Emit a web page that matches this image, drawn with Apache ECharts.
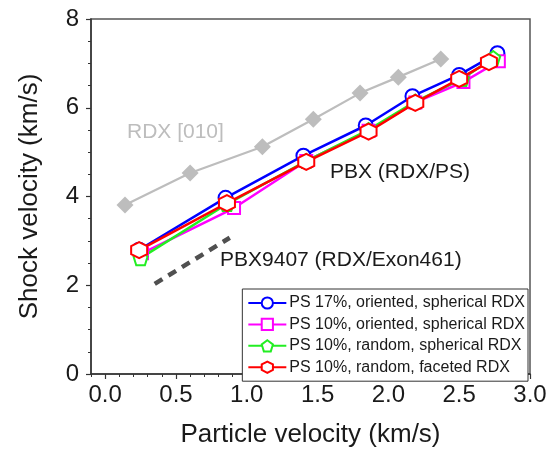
<!DOCTYPE html>
<html>
<head>
<meta charset="utf-8">
<script src="https://cdn.jsdelivr.net/npm/echarts@6/dist/echarts.min.js"></script>
<style>
html,body{margin:0;padding:0;background:#fff;}
#c{width:551px;height:457px;}
</style>
</head>
<body>
<div id="c"></div>
<script>
// ---- data ----
var xTicks = [0.0, 0.5, 1.0, 1.5, 2.0, 2.5, 3.0];
var xMinorTicks = [-0.1,0,0.1,0.2,0.3,0.4,0.5,0.6,0.7,0.8,0.9,1.0,1.1,1.2,1.3,1.4,1.5,1.6,1.7,1.8,1.9,2.0,2.1,2.2,2.3,2.4,2.5,2.6,2.7,2.8,2.9,3.0];
var yTicks = [0, 2, 4, 6, 8];

var rdxX = [0.14, 0.60, 1.11, 1.47, 1.80, 2.07, 2.37];
var rdxY = [3.81, 4.53, 5.12, 5.74, 6.33, 6.69, 7.10];

var pbx9407X = [0.35, 0.88];
var pbx9407Y = [2.03, 3.07];

var ps17oX = [0.24, 0.85, 1.40, 1.84, 2.17, 2.50, 2.77];
var ps17oY = [2.80, 3.97, 4.92, 5.60, 6.26, 6.74, 7.23];

var ps10oX = [0.26, 0.91, 1.42, 1.86, 2.19, 2.53, 2.78];
var ps10oY = [2.72, 3.74, 4.80, 5.48, 6.12, 6.58, 7.05];

var ps10rsX = [0.25, 0.86, 1.42, 1.86, 2.19, 2.52, 2.74];
var ps10rsY = [2.61, 3.83, 4.80, 5.50, 6.14, 6.65, 7.12];

var ps10rfX = [0.24, 0.86, 1.42, 1.86, 2.19, 2.50, 2.71];
var ps10rfY = [2.79, 3.85, 4.78, 5.46, 6.11, 6.65, 7.03];

var seriesNames = [
  'PS 17%, oriented, spherical RDX',
  'PS 10%, oriented, spherical RDX',
  'PS 10%, random, spherical RDX',
  'PS 10%, random, faceted RDX'
];

function pairs(xs, ys) { return xs.map(function (x, i) { return [x, ys[i]]; }); }

var pentagon = 'path://M0,-1 L0.951,-0.309 L0.588,0.809 L-0.588,0.809 L-0.951,-0.309 Z';
var hexagon = 'path://M0,-1 L0.866,-0.5 L0.866,0.5 L0,1 L-0.866,0.5 L-0.866,-0.5 Z';

var FONT = 'Liberation Sans, Arial, sans-serif';

function pbxSeries(name, xs, ys, color, symbol, size) {
  return {
    name: name, type: 'line', xAxisIndex: 0, yAxisIndex: 0,
    data: pairs(xs, ys),
    symbol: symbol, symbolSize: size,
    lineStyle: { color: color, width: 2.5 },
    itemStyle: { color: '#ffffff', borderColor: color, borderWidth: 2 },
    emphasis: { disabled: true },
    animation: false
  };
}

var chart = echarts.init(document.getElementById('c'), null, { renderer: 'canvas' });
chart.setOption({
  backgroundColor: '#ffffff',
  animation: false,
  textStyle: { fontFamily: FONT },
  grid: {
    left: 91, right: 21, top: 19, bottom: 83,
    show: true, borderColor: '#555', borderWidth: 1.5, backgroundColor: 'transparent'
  },
  xAxis: [{
    type: 'value', min: -0.1, max: 3.0,
    name: 'Particle velocity (km/s)', nameLocation: 'middle', nameGap: 48,
    nameTextStyle: { fontSize: 26, color: '#1a1a1a', fontFamily: FONT },
    axisLine: { onZero: false, lineStyle: { color: '#333', width: 1.5 } },
    axisTick: { show: true, inside: false, length: 5, customValues: xTicks, lineStyle: { color: '#333', width: 1.2 } },
    axisLabel: { customValues: xTicks, fontSize: 24, color: '#1a1a1a', margin: 9, fontFamily: FONT,
      formatter: function (v) { return v.toFixed(1); } },
    splitLine: { show: false }
  }, {
    type: 'value', min: -0.1, max: 3.0, position: 'bottom',
    axisLine: { show: false },
    axisTick: { show: true, inside: false, length: 3, customValues: xMinorTicks, lineStyle: { color: '#333', width: 1 } },
    axisLabel: { show: false },
    splitLine: { show: false }
  }],
  yAxis: [{
    type: 'value', min: 0, max: 8, interval: 2,
    name: 'Shock velocity (km/s)', nameLocation: 'middle', nameGap: 48, nameRotate: 90,
    nameTextStyle: { fontSize: 26, color: '#1a1a1a', fontFamily: FONT },
    axisLine: { show: true, onZero: false, lineStyle: { color: '#333', width: 1.5 } },
    axisTick: { show: true, inside: false, length: 5, lineStyle: { color: '#333', width: 1.2 } },
    minorTick: { show: true, splitNumber: 4, length: 3, lineStyle: { color: '#333', width: 1 } },
    axisLabel: { customValues: yTicks, fontSize: 24, color: '#1a1a1a', margin: 12, fontFamily: FONT },
    splitLine: { show: false },
    minorSplitLine: { show: false }
  }],
  legend: {
    data: seriesNames,
    orient: 'vertical',
    right: 23, top: 289,
    backgroundColor: '#ffffff',
    borderColor: '#333', borderWidth: 1,
    padding: [6, 3, 6, 5],
    itemGap: 5.4,
    itemWidth: 38, itemHeight: 14,
    textStyle: { fontSize: 16, color: '#1a1a1a', fontFamily: FONT, padding: [0, 0, 0, -2] },
    selectedMode: false
  },
  graphic: [
    { type: 'text', left: 127, top: 122, style: { text: 'RDX [010]', font: '21px ' + FONT, fill: '#bdbdbd' } },
    { type: 'text', left: 330, top: 162, style: { text: 'PBX (RDX/PS)', font: '21px ' + FONT, fill: '#1a1a1a' } },
    { type: 'text', left: 220, top: 250, style: { text: 'PBX9407 (RDX/Exon461)', font: '21px ' + FONT, fill: '#1a1a1a' } }
  ],
  series: [
    {
      name: 'RDX [010]', type: 'line', data: pairs(rdxX, rdxY),
      symbol: 'diamond', symbolSize: 17,
      lineStyle: { color: '#bdbdbd', width: 2.2 },
      itemStyle: { color: '#bdbdbd' },
      emphasis: { disabled: true }
    },
    {
      name: 'PBX9407 (RDX/Exon461)', type: 'line', data: pairs(pbx9407X, pbx9407Y),
      symbol: 'none',
      lineStyle: { color: '#505050', width: 4.5, type: [9, 7] },
      emphasis: { disabled: true }
    },
    pbxSeries(seriesNames[0], ps17oX, ps17oY, '#0000ff', 'circle', 14),
    pbxSeries(seriesNames[1], ps10oX, ps10oY, '#ff00ff', 'rect', 12),
    pbxSeries(seriesNames[2], ps10rsX, ps10rsY, '#22ee22', pentagon, 14),
    pbxSeries(seriesNames[3], ps10rfX, ps10rfY, '#ff0000', hexagon, 16)
  ]
});
</script>
</body>
</html>
